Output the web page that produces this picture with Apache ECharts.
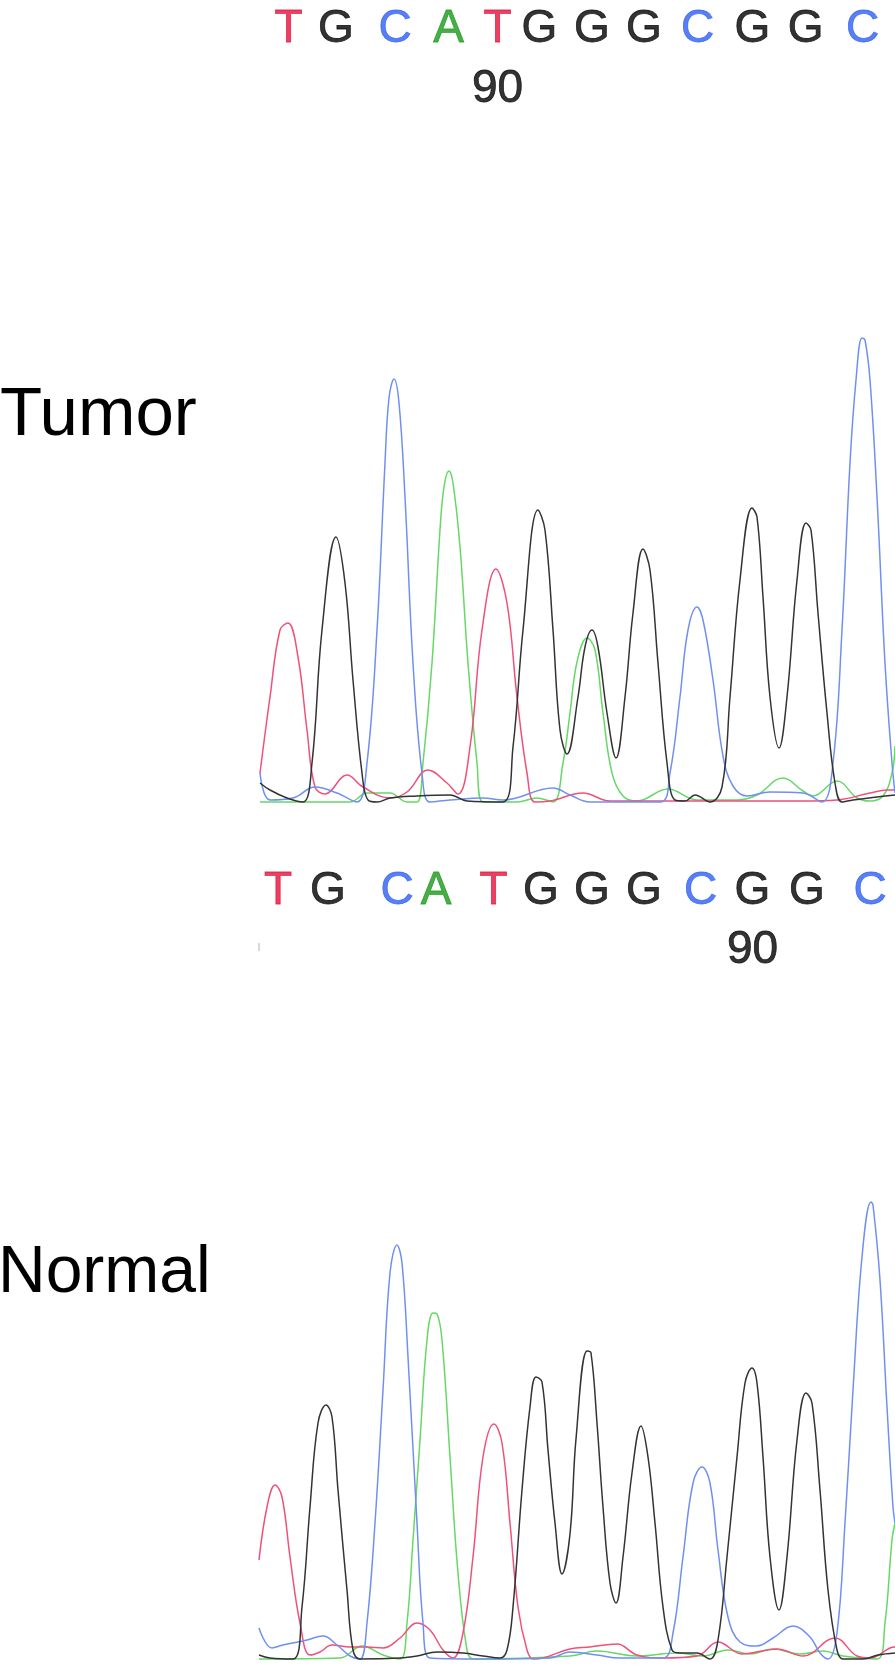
<!DOCTYPE html>
<html>
<head>
<meta charset="utf-8">
<title>Tumor / Normal chromatogram</title>
<script src="https://cdn.jsdelivr.net/npm/echarts/dist/echarts.min.js"></script>
<style>
  html, body { margin: 0; padding: 0; background: #fff; }
  #chart { width: 895px; height: 1669px; }
</style>
</head>
<body>
<div id="chart"></div>
<script>
// base calls above each trace (x = scan position)
var tumorBases = ['T','G','C','A','T','G','G','G','C','G','G','C'];
var tumorBaseX = [30.5, 78, 137, 190.7, 239.5, 281.5, 333.8, 386, 439.7, 494.5, 547.7, 604.5];
var normalBases = ['T','G','C','A','T','G','G','G','C','G','G','C'];
var normalBaseX = [20, 70, 139, 178, 235.5, 283, 334, 386, 442.5, 494.5, 549, 612];
// base numbering: "90" sits under this base index
var tumorPosLabel = {index: 4, text: '90'};
var normalPosLabel = {index: 9, text: '90'};

// Tumor traces [scan, signal]
var tumorT = [[2,29],[12,105],[22,172],[30,179],[40,145],[49,72],[57,15],[67,8],[89,27],[105,15],[132,4],[149,10],[170,32],[189,19],[200,8],[212,55],[224,172],[238,233],[249,199],[259,105],[269,29],[277,0],[292,1],[325,9],[352,1],[545,1],[579,2],[612,9],[629,12],[637,12]];
var tumorG = [[2,19],[12,12],[29,4],[45,0],[54,39],[64,172],[78,265],[87,219],[95,122],[104,29],[110,2],[119,0],[132,4],[159,6],[192,7],[209,1],[245,0],[255,55],[265,172],[280,292],[287,272],[295,172],[302,72],[309,48],[320,105],[327,155],[334,172],[340,155],[349,89],[358,44],[367,105],[375,189],[385,253],[392,232],[400,139],[409,39],[417,2],[427,1],[437,7],[452,0],[464,15],[472,105],[482,222],[494,294],[499,285],[505,205],[512,105],[521,54],[529,105],[539,222],[548,279],[553,272],[560,189],[569,89],[577,19],[584,0],[595,2],[619,5],[637,7]];
var tumorC = [[2,29],[12,2],[35,4],[57,15],[79,9],[99,0],[109,39],[119,172],[127,339],[131,404],[136,423],[141,399],[147,305],[155,139],[164,29],[172,0],[192,2],[225,4],[245,2],[295,14],[312,7],[332,0],[402,0],[412,29],[422,105],[430,172],[439,195],[445,182],[455,122],[465,46],[475,16],[489,6],[512,10],[545,9],[564,0],[575,39],[584,172],[592,339],[598,422],[604,464],[607,462],[612,422],[619,305],[627,139],[634,39],[637,9]];
var tumorA = [[2,0],[92,0],[109,9],[132,9],[149,0],[159,0],[165,39],[174,139],[182,272],[186,315],[191,331],[195,319],[202,255],[210,139],[219,39],[225,0],[259,0],[279,4],[295,0],[305,39],[312,89],[319,140],[329,164],[337,152],[345,89],[354,29],[365,6],[379,1],[410,13],[439,2],[479,2],[499,7],[525,24],[545,11],[555,6],[579,21],[599,4],[612,1],[625,6],[634,29],[637,56]];

// Normal traces [scan, signal]
var normalT = [[1,99],[9,152],[17,174],[24,162],[32,102],[42,36],[52,4],[62,7],[74,14],[92,12],[109,12],[125,11],[142,21],[159,36],[172,29],[185,9],[195,1],[205,26],[215,102],[225,202],[236,235],[244,216],[252,136],[260,52],[269,9],[275,0],[285,1],[312,10],[332,12],[359,15],[379,4],[405,1],[439,3],[460,17],[484,5],[519,10],[545,3],[577,21],[599,3],[612,1],[632,11],[637,12]];
var normalG = [[1,4],[12,1],[35,0],[44,52],[52,152],[60,236],[68,254],[74,242],[80,169],[89,69],[95,9],[102,0],[142,1],[159,3],[179,7],[205,6],[225,3],[242,1],[249,9],[255,52],[264,169],[272,252],[278,282],[284,277],[290,209],[297,136],[304,85],[312,125],[318,220],[329,308],[333,306],[339,236],[345,152],[352,76],[358,56],[365,102],[374,186],[383,233],[390,202],[397,136],[405,52],[414,9],[422,6],[439,6],[452,0],[460,19],[469,102],[479,202],[487,276],[494,291],[499,276],[505,202],[512,102],[521,49],[529,102],[539,219],[548,266],[554,256],[562,169],[570,69],[579,9],[585,0],[605,0],[620,4],[637,6]];
var normalC = [[1,31],[14,11],[25,14],[49,19],[65,23],[79,14],[92,3],[102,0],[109,36],[117,136],[125,269],[132,386],[139,414],[144,396],[150,302],[159,136],[165,36],[172,1],[225,0],[292,1],[312,7],[339,4],[362,1],[405,1],[415,26],[425,102],[435,176],[444,192],[452,176],[460,109],[470,42],[482,17],[499,13],[515,21],[535,33],[552,22],[562,6],[570,0],[579,26],[587,136],[595,269],[604,402],[613,457],[615,454],[622,379],[629,252],[635,152],[637,136]];
var normalA = [[1,0],[82,1],[104,13],[125,4],[142,0],[149,36],[155,119],[162,219],[169,319],[175,346],[179,345],[184,319],[192,202],[200,86],[209,9],[215,0],[312,3],[339,8],[379,3],[419,6],[445,3],[470,9],[492,5],[515,10],[542,5],[565,8],[585,3],[619,0],[627,36],[634,119],[637,136]];

var traceColor = {T: '#f0507a', G: '#333333', C: '#7090f0', A: '#66d866'};
var letterColor = {T: '#e3123a', G: '#000000', C: '#2f5ff2', A: '#1c9a1c'};
var font = 'Liberation Sans, Arial, Helvetica, sans-serif';

var chart = echarts.init(document.getElementById('chart'));

function hiddenX(grid) {
  return {type: 'value', gridIndex: grid, min: 0, max: 637, show: false};
}
function hiddenY(grid, min, max) {
  return {type: 'value', gridIndex: grid, min: min, max: max, show: false};
}

function traceSeries(data, base, axis) {
  return {
    type: 'line',
    xAxisIndex: axis,
    yAxisIndex: axis,
    data: data,
    smooth: 0.4,
    showSymbol: false,
    silent: true,
    lineStyle: {color: traceColor[base], width: 1.5},
    z: base === 'G' ? 3 : 2
  };
}

function baseSeries(bases, xs, pos, axis) {
  var items = bases.map(function (b, i) {
    return {
      value: [xs[i], 1],
      label: {formatter: b, color: letterColor[b], textBorderColor: letterColor[b]}
    };
  });
  items.push({
    value: [xs[pos.index], 0],
    label: {formatter: pos.text, color: '#000000', textBorderColor: '#000000', fontSize: 46}
  });
  return {
    type: 'scatter',
    xAxisIndex: axis,
    yAxisIndex: axis,
    symbolSize: 0,
    silent: true,
    data: items,
    label: {
      show: true,
      position: 'inside',
      fontSize: 46,
      fontFamily: font,
      textBorderWidth: 0.8,
      verticalAlign: 'middle',
      align: 'center'
    }
  };
}

var option = {
  animation: false,
  backgroundColor: '#ffffff',
  grid: [
    {left: 258, width: 637, top: 29, height: 60},    // tumor base calls
    {left: 258, width: 637, top: 322, height: 482},  // tumor trace
    {left: 258, width: 637, top: 891, height: 59},   // normal base calls
    {left: 258, width: 637, top: 1179, height: 482}  // normal trace
  ],
  xAxis: [hiddenX(0), hiddenX(1), hiddenX(2), hiddenX(3)],
  yAxis: [hiddenY(0, 0, 1), hiddenY(1, -2, 480), hiddenY(2, 0, 1), hiddenY(3, -2, 480)],
  series: [
    baseSeries(tumorBases, tumorBaseX, tumorPosLabel, 0),
    traceSeries(tumorA, 'A', 1),
    traceSeries(tumorT, 'T', 1),
    traceSeries(tumorC, 'C', 1),
    traceSeries(tumorG, 'G', 1),
    baseSeries(normalBases, normalBaseX, normalPosLabel, 2),
    traceSeries(normalA, 'A', 3),
    traceSeries(normalT, 'T', 3),
    traceSeries(normalC, 'C', 3),
    traceSeries(normalG, 'G', 3)
  ],
  graphic: [
    {type: 'text', left: 0, top: 381, silent: true,
     style: {text: 'Tumor', fontSize: 69, fontFamily: font, fill: '#000'}},
    {type: 'text', left: -2, top: 1241, silent: true,
     style: {text: 'Normal', fontSize: 66, fontFamily: font, fill: '#000'}},
    // small ruler tick at the start of the normal base row
    {type: 'line', silent: true,
     shape: {x1: 259, y1: 943, x2: 259, y2: 951},
     style: {stroke: '#b0b0b0', lineWidth: 1}}
  ]
};

chart.setOption(option);
</script>
</body>
</html>
